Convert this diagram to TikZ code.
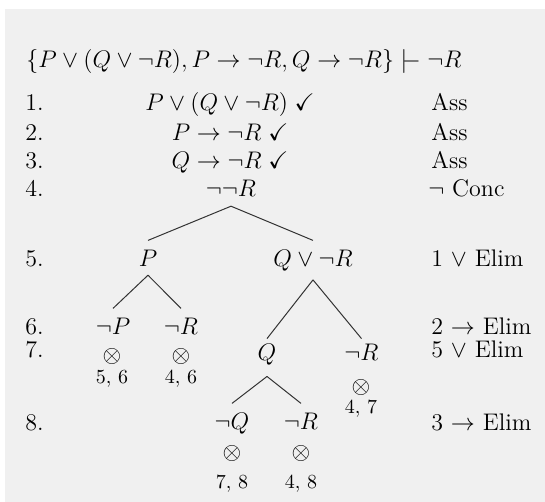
\documentclass[tikz,border=0pt]{standalone}
\usepackage{amsmath,amssymb}
\definecolor{panel}{HTML}{F0F0F0}
\begin{document}
\begin{tikzpicture}[x=0.5pt,y=-0.5pt,
  every node/.style={inner sep=0pt, font=\fontsize{12}{14}\selectfont},
  num/.style={anchor=base west},
  just/.style={anchor=base west},
  fml/.style={anchor=base},
  tn/.style={anchor=base, inner ysep=4.4pt},
  cl/.style={anchor=center},
  lab/.style={anchor=base, font=\fontsize{10}{12}\selectfont},
  edge/.style={line width=0.5pt, black!80}]
\useasboundingbox (0,0) rectangle (545,502);
\fill[panel] (5,9) rectangle (545,502);
% title
\node[anchor=base west] (title) at (26,68)
  {$\{P\vee(Q\vee\neg R), P\to\neg R, Q\to\neg R\}\mathrel{|\mkern-4mu-}\neg R$};
% line numbers
\node[num] (n1) at (25,110.7) {1.};
\node[num] (n2) at (25,140.7) {2.};
\node[num] (n3) at (25,169) {3.};
\node[num] (n4) at (25,197) {4.};
\node[num] (n5) at (25,266) {5.};
\node[num] (n6) at (25,334) {6.};
\node[num] (n7) at (25,357) {7.};
\node[num] (n8) at (25,430) {8.};
% justifications
\node[just] (j1) at (431,110.7) {Ass};
\node[just] (j2) at (431,140.7) {Ass};
\node[just] (j3) at (431,169) {Ass};
\node[just] (j4) at (428,197) {$\neg$ Conc};
\node[just] (j5) at (431,266) {1 $\vee$ Elim};
\node[just] (j6) at (431,334) {2 $\to$ Elim};
\node[just] (j7) at (431,357) {5 $\vee$ Elim};
\node[just] (j8) at (431,430) {3 $\to$ Elim};
% trunk
\node[fml] (f1) at (230,110.7) {$P\vee(Q\vee\neg R)\;\checkmark$};
\node[fml] (f2) at (230,140.7) {$P\to\neg R\;\checkmark$};
\node[fml] (f3) at (230,169) {$Q\to\neg R\;\checkmark$};
% tree
\node[tn] (nn) at (231,197) {$\neg\neg R$};
\node[tn] (p5) at (148,266) {$P$};
\node[tn] (qr5) at (313,266) {$Q\vee\neg R$};
\node[tn] (np6) at (113,334) {$\neg P$};
\node[tn] (nr6) at (181,334) {$\neg R$};
\node[tn] (q7) at (267,360) {$Q$};
\node[tn] (nr7) at (361.5,360) {$\neg R$};
\node[tn] (nq8) at (232,429) {$\neg Q$};
\node[tn] (nr8) at (301,429) {$\neg R$};
% closures
\node[cl] (x1) at (112,356) {$\otimes$};
\node[cl] (x2) at (181,356) {$\otimes$};
\node[cl] (x3) at (361,387.5) {$\otimes$};
\node[cl] (x4) at (232,453) {$\otimes$};
\node[cl] (x5) at (301,453) {$\otimes$};
\node[lab] (l1) at (112,383.5) {$5,\,6$};
\node[lab] (l2) at (181,383.5) {$4,\,6$};
\node[lab] (l3) at (361,413.5) {$4,\,7$};
\node[lab] (l4) at (232,488) {$7,\,8$};
\node[lab] (l5) at (301,488) {$4,\,8$};
% edges
\draw[edge] (nn.south) -- (p5.north);
\draw[edge] (nn.south) -- (qr5.north);
\draw[edge] (p5.south) -- (np6.north);
\draw[edge] (p5.south) -- (nr6.north);
\draw[edge] (qr5.south) -- ([yshift=-2.1pt]q7.north);
\draw[edge] (qr5.south) -- ([yshift=-2.1pt]nr7.north);
\draw[edge] ([yshift=-1.3pt]q7.south) -- (nq8.north);
\draw[edge] ([yshift=-1.3pt]q7.south) -- (nr8.north);
\end{tikzpicture}
\end{document}
